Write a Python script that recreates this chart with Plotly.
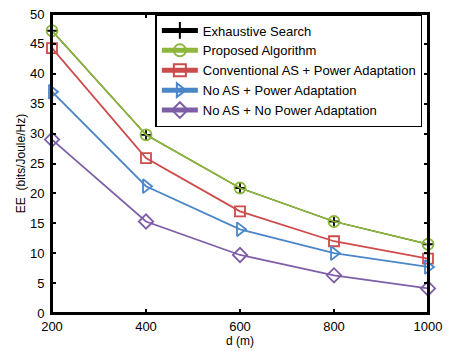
import plotly.graph_objects as go

d = [200, 400, 600, 800, 1000]
exhaustive = [47.2, 29.8, 20.9, 15.3, 11.5]
proposed = [47.2, 29.8, 20.9, 15.3, 11.5]
conventional = [44.3, 25.9, 17.0, 12.0, 9.1]
noas_pa = [37.0, 21.2, 14.0, 10.0, 7.7]
noas_nopa = [29.0, 15.3, 9.7, 6.3, 4.1]

names = ["Exhaustive Search", "Proposed Algorithm", "Conventional AS + Power Adaptation",
         "No AS + Power Adaptation", "No AS + No Power Adaptation"]
colors = ["#000000", "#8cb63c", "#cd4b4b", "#4a86c8", "#7e5ea6"]
symbols = ["cross-thin", "circle-open", "square-open", "triangle-right-open", "diamond-open"]
sizes = [8, 11, 10, 12, 11]
widths = [1.2, 1.8, 1.8, 1.8, 1.8]
series = [exhaustive, proposed, conventional, noas_pa, noas_nopa]

fig = go.Figure()
for i in range(5):
    fig.add_trace(go.Scatter(
        x=d, y=series[i], name=names[i], mode="lines+markers", cliponaxis=False,
        line=dict(color=colors[i], width=widths[i]),
        marker=dict(symbol=symbols[i], size=sizes[i], color=colors[i],
                    line=dict(color=colors[i], width=1.8)),
    ))

axis_common = dict(showline=True, linecolor="black", linewidth=2, mirror="ticks",
                   ticks="inside", ticklen=4, tickcolor="black", tickwidth=1.5,
                   showgrid=False, zeroline=False,
                   tickfont=dict(family="Liberation Sans, Arial", size=13, color="black"))

fig.add_shape(type="rect", xref="paper", yref="paper", x0=0, y0=0, x1=1, y1=1,
              line=dict(color="black", width=2), layer="above")

fig.update_layout(
    width=449, height=351,
    margin=dict(l=52, r=18, t=7, b=38),
    paper_bgcolor="white", plot_bgcolor="white",
    font=dict(family="Liberation Sans, Arial", size=12, color="black"),
    xaxis=dict(range=[200, 1000], tickvals=[200, 400, 600, 800, 1000],
               title=dict(text="d (m)", font=dict(size=12), standoff=1), **axis_common),
    yaxis=dict(range=[0, 50], tickvals=list(range(0, 51, 5)), ticklabelstandoff=3,
               title=dict(text="EE  (bits/Joule/Hz)", font=dict(size=12), standoff=2), **axis_common),
    legend=dict(x=0.985, y=1.0, xanchor="right", yanchor="top",
                bordercolor="black", borderwidth=1.5, bgcolor="white",
                font=dict(size=13), tracegroupgap=0, itemwidth=36, itemsizing="constant"),
    showlegend=True,
)

fig.write_html("out.html", config={"displayModeBar": False},
               post_script="document.body.style.margin='0';document.body.style.overflow='hidden';")
